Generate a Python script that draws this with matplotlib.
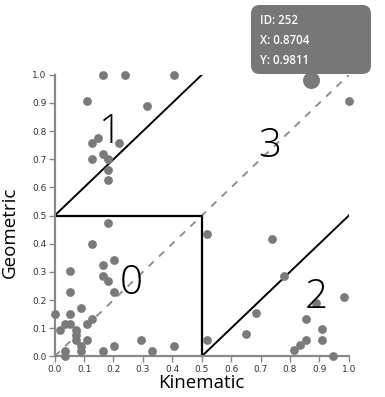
import matplotlib.pyplot as plt
from matplotlib.patches import FancyBboxPatch

# points (kinematic, geometric)
kin = [0.166, 0.239, 0.406, 0.110, 0.313, 0.146, 0.128, 0.220, 0.164, 0.128,
       0.183, 0.183, 0.183,
       0.183, 0.128, 0.164, 0.202, 0.053, 0.164, 0.183, 0.202, 0.053, 0.091,
       0.000, 0.053, 0.128, 0.035, 0.053, 0.109, 0.017, 0.072, 0.072, 0.072,
       0.109, 0.091, 0.295, 0.202, 0.406, 0.035, 0.091, 0.164, 0.331, 0.035,
       0.518, 0.740, 0.778, 0.982, 0.888, 0.686, 0.853, 0.908, 0.649, 0.518,
       0.853, 0.908, 0.833, 0.815, 0.946, 1.000]
geo = [1.000, 1.000, 1.000, 0.907, 0.889, 0.776, 0.757, 0.757, 0.719, 0.700,
       0.700, 0.663, 0.625,
       0.473, 0.399, 0.323, 0.342, 0.304, 0.285, 0.266, 0.228, 0.228, 0.171,
       0.152, 0.152, 0.133, 0.114, 0.114, 0.114, 0.095, 0.095, 0.076, 0.057,
       0.057, 0.038, 0.057, 0.038, 0.038, 0.019, 0.019, 0.019, 0.019, 0.000,
       0.436, 0.416, 0.286, 0.210, 0.190, 0.153, 0.134, 0.096, 0.078, 0.059,
       0.059, 0.059, 0.040, 0.021, 0.000, 0.907]

# hovered point
hover_id = 252
hover_x = 0.8704
hover_y = 0.9811

# region labels and their positions
regions = ['1', '0', '3', '2']
region_x = [0.187, 0.259, 0.731, 0.888]
region_y = [0.795, 0.258, 0.746, 0.208]

fig = plt.figure(figsize=(3.85, 3.97), dpi=100)
ax = fig.add_axes([0.142, 0.1025, 0.764, 0.709])

grey = '#888888'
dot = '#7a7a7a'
label_font = ['Open Sans', 'DejaVu Sans']

# boundaries
ax.plot([0, 1], [0, 1], color=grey, lw=1.3, ls=(0, (4, 4)), zorder=1)
ax.plot([0, 0.5], [0.5, 1.0], color='black', lw=1.4, zorder=2)
ax.plot([0, 0.5, 0.5], [0.5, 0.5, 0], color='black', lw=1.6, zorder=2)
ax.plot([0.5, 1.0], [0, 0.5], color='black', lw=1.4, zorder=2)

ax.scatter(kin, geo, s=40, color=dot, linewidths=0, clip_on=False, zorder=3)
ax.scatter([hover_x], [hover_y], s=150, color=dot, linewidths=0, clip_on=False, zorder=3)

for lab, x, y in zip(regions, region_x, region_y):
    ax.text(x, y, lab, fontsize=29, ha='center', va='center', color='black',
            family=label_font, weight='light', zorder=4)

ax.set_xlim(0, 1)
ax.set_ylim(0, 1)
ticks = [i / 10 for i in range(11)]
ax.set_xticks(ticks)
ax.set_yticks(ticks)
ax.set_xticklabels([f'{t:.1f}' for t in ticks])
ax.set_yticklabels([f'{t:.1f}' for t in ticks])
ax.tick_params(labelsize=6.5, length=4, width=1, color=grey, labelcolor='#333333', pad=2)

for s in ['top', 'right']:
    ax.spines[s].set_visible(False)
for s in ['left', 'bottom']:
    ax.spines[s].set_color(grey)
    ax.spines[s].set_linewidth(1.6)

ax.set_xlabel('Kinematic', fontsize=13.5, labelpad=0, family=label_font)
ax.set_ylabel('Geometric', fontsize=13.5, family=label_font)
ax.yaxis.set_label_coords(-0.12, 0.44)

# tooltip
box = FancyBboxPatch((251 / 385, 1 - 74 / 397), 120 / 385, 69 / 397,
                     boxstyle='round,pad=0,rounding_size=0.022',
                     transform=fig.transFigure, facecolor='#777777',
                     edgecolor='none', zorder=5)
fig.patches.append(box)
tip = [f'ID: {hover_id}', f'X: {hover_x:.4f}', f'Y: {hover_y:.4f}']
for i, line in enumerate(tip):
    fig.text(260 / 385, 1 - (20 + 20 * i) / 397, line, color='white',
             fontsize=8.3, va='center', ha='left', family=label_font,
             weight='semibold', zorder=6)

fig.savefig('out.png', dpi=100)
